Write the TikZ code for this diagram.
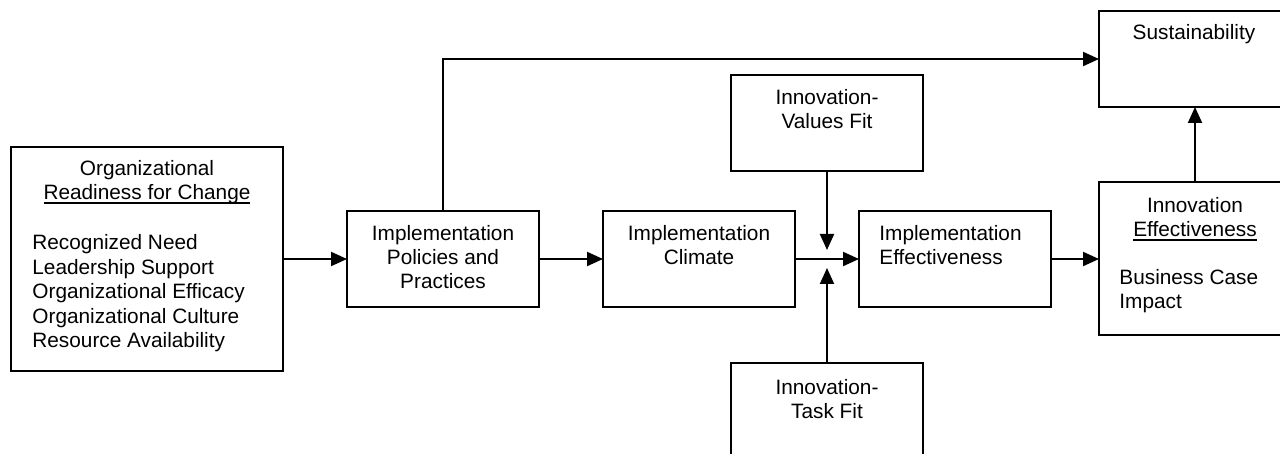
\documentclass[tikz,border=0pt]{standalone}
\usepackage{fontspec}
\setmainfont{Liberation Sans}
\usetikzlibrary{arrows.meta}
\newcommand\myul[1]{\setbox0\hbox{#1}\rlap{\vrule height -1pt depth 2pt width \wd0}\box0}
\begin{document}
\begin{tikzpicture}[x=0.5pt,y=-0.5pt,
  box/.style={draw, line width=1pt, minimum width=96pt, minimum height=48pt, inner sep=0pt, outer sep=0pt},
  txt/.style={font=\fontsize{10.4pt}{12.25pt}\selectfont, inner sep=0pt, anchor=base},
  txtl/.style={txt, anchor=base west},
  arr/.style={line width=1pt, -{Triangle[length=8pt,width=7pt]}}]
\useasboundingbox (0,0) rectangle (1280,454);
% boxes
\node[box, minimum width=136pt, minimum height=112pt] (org) at (147,259) {};
\node[box] (pol) at (443,259) {};
\node[box] (clim) at (699,259) {};
\node[box] (val) at (827,123) {};
\node[box] (task) at (827,411) {};
\node[box] (ieff) at (955,259) {};
\node[box, minimum height=76.5pt] (innov) at (1195,258.5) {};
\node[box] (sust) at (1195,59) {};
% texts
\node[txt] (orgt1) at (147,176) {Organizational};
\node[txt] (orgt2) at (147,200) {\myul{Readiness for Change}};
\node[txtl] (orgl1) at (32,250) {Recognized Need};
\node[txtl] (orgl2) at (32,274.5) {Leadership Support};
\node[txtl] (orgl3) at (32,299) {Organizational Efficacy};
\node[txtl] (orgl4) at (32,323.5) {Organizational Culture};
\node[txtl] (orgl5) at (32,348) {Resource Availability};
\node[txt] (pol1) at (443,241) {Implementation};
\node[txt] (pol2) at (443,265) {Policies and};
\node[txt] (pol3) at (443,289) {Practices};
\node[txt] (clim1) at (699,241) {Implementation};
\node[txt] (clim2) at (699,265) {Climate};
\node[txt] (val1) at (827,105) {Innovation-};
\node[txt] (val2) at (827,129) {Values Fit};
\node[txt] (task1) at (827,394) {Innovation-};
\node[txt] (task2) at (827,418) {Task Fit};
\node[txtl] (ieff1) at (879,241) {Implementation};
\node[txtl] (ieff2) at (879,265) {Effectiveness};
\node[txt] (innov1) at (1195,213) {Innovation};
\node[txt] (innov2) at (1195,237) {\myul{Effectiveness}};
\node[txtl] (innov3) at (1119,285) {Business Case};
\node[txtl] (innov4) at (1119,309) {Impact};
\node[txt] (sust1) at (1194,40) {Sustainability};
% connectors
\coordinate (vtip) at (827,250);
\coordinate (ttip) at (827,268);
\draw[arr] (org.east) -- (pol.west);
\draw[arr] (pol.north) |- (sust.west);
\draw[arr] (pol.east) -- (clim.west);
\draw[arr] (clim.east) -- (ieff.west);
\draw[arr] (val.south) -- (vtip);
\draw[arr] (task.north) -- (ttip);
\draw[arr] (ieff.east) -- (ieff.east -| innov.west);
\draw[arr] (innov.north) -- (sust.south);
\end{tikzpicture}
\end{document}
